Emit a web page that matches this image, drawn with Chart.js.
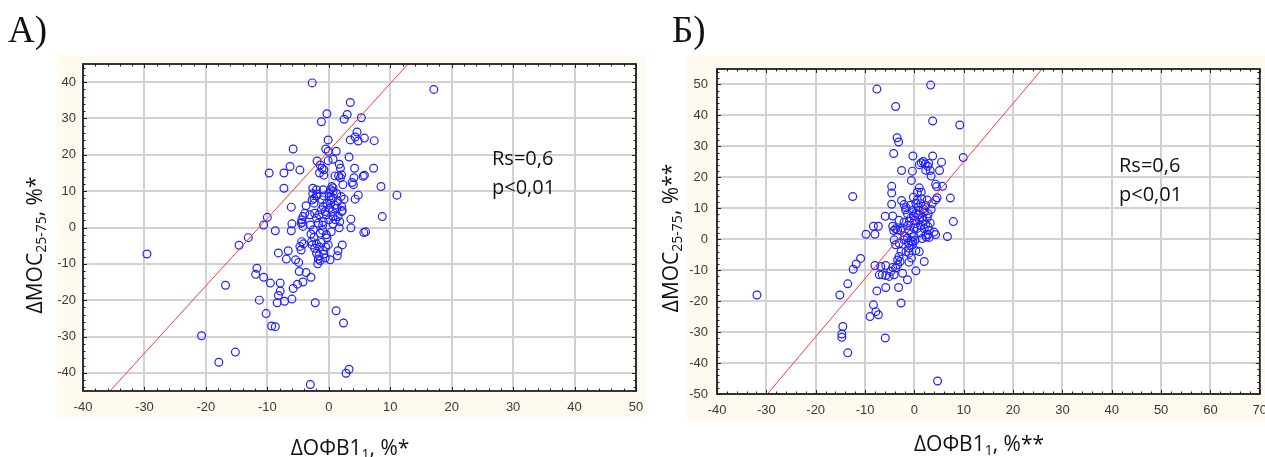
<!DOCTYPE html>
<html>
<head>
<meta charset="utf-8">
<script src="https://cdn.jsdelivr.net/npm/chart.js@4.4.1/dist/chart.umd.min.js"></script>
<style>
  html, body { margin: 0; padding: 0; background: #fff; }
  #wrap { position: relative; width: 1265px; height: 457px; overflow: hidden; }
  canvas { position: absolute; top: 0; }
  .hd { position: absolute; font-family: 'Liberation Serif', serif; font-size: 37px; color: #111; line-height: 1; }
  .tt { position: absolute; font-family: 'Open Sans', sans-serif; font-size: 21px; color: #111;
        white-space: nowrap; line-height: 1; transform: translate(-50%, -50%); }
  .tt.rot { transform: translate(-50%, -50%) rotate(-90deg); }
  .tt sub { font-size: 14px; vertical-align: -4px; line-height: 0; }
  .rs { position: absolute; font-family: 'Open Sans', sans-serif; font-size: 20px; color: #111; line-height: 29px; }
</style>
</head>
<body>
<div id="wrap">
  <canvas id="chartA" width="645" height="457" style="left:0"></canvas>
  <canvas id="chartB" width="620" height="457" style="left:645px"></canvas>

  <div class="hd" style="left:8px;top:11px">А)</div>
  <div class="hd" style="left:672px;top:11px">Б)</div>

  <div class="tt rot" style="left:34px;top:245px">ΔМОС<sub>25-75</sub>, %*</div>
  <div class="tt" style="left:350px;top:447px">ΔОФВ1<sub>1</sub>, %*</div>
  <div class="rs" style="left:492px;top:143px">Rs=0,6<br>p&lt;0,01</div>

  <div class="tt rot" style="left:670px;top:238px">ΔМОС<sub>25-75</sub>, %**</div>
  <div class="tt" style="left:979px;top:443px">ΔОФВ1<sub>1</sub>, %**</div>
  <div class="rs" style="left:1119px;top:150px">Rs=0,6<br>p&lt;0,01</div>
</div>

<script>
// Панель А: ΔОФВ1 (x) против ΔМОС25-75 (y)
const xA = [-29.6,-20.7,-17.9,-15.2,-16.8,-14.6,-13.1,-10.6,-10.0,-9.7,-8.7,-11.7,-11.9,-10.6,-9.5,-11.3,-10.2,-9.3,-8.7,-8.2,
  -7.9,-7.9,-8.2,-8.4,-7.2,-7.3,-7.3,-6.3,-5.8,-4.7,-6.6,-6.9,-6.1,-6.0,-6.1,-6.0,-5.8,-5.4,-4.9,-5.1,
  -4.8,-4.2,-3.7,-2.9,-2.2,-3.0,-2.7,-1.2,-0.3,-0.1,-0.5,-0.1,1.2,-1.9,-0.1,0.7,1.2,2.4,2.8,3.3,
  2.5,3.0,3.5,5.3,3.3,4.6,4.3,3.5,4.8,5.8,7.4,4.2,7.3,4.1,5.6,5.8,3.8,4.0,8.5,11.1,
  8.7,4.8,4.3,3.6,3.6,5.7,6.0,2.2,1.5,1.4,0.2,1.7,17.1,-1.4,-1.5,-1.1,-0.8,-0.8,1.7,1.9,
  1.0,1.6,2.1,1.9,2.3,-2.6,0.5,0.7,0.3,-0.9,-2.0,-2.6,-2.0,-0.8,0.0,0.7,1.3,2.0,2.5,-3.7,
  -2.4,-2.7,-1.1,-0.3,0.4,1.0,2.1,2.2,-3.9,-4.2,-4.4,-4.5,-4.2,-3.1,-2.3,-2.0,-1.6,-1.2,-0.9,-0.6,
  -0.4,0.1,0.3,0.6,0.7,0.0,-0.9,-1.7,1.1,1.5,1.8,1.3,0.1,0.7,1.5,2.1,-4.3,-3.0,-1.0,0.7,
  -2.9,-2.4,-1.4,-0.4,-0.3,-4.4,-4.1,-4.7,-4.5,-2.8,-2.7,-2.0,-1.2,-1.5,-0.9,-0.5,-0.1,-2.3,-2.0,-1.6,
  -1.7,-1.8,-1.4,-0.8,-0.6,-2.4,-1.9,-2.5,-1.0,0.4];
const yA = [-7.3,-29.8,-37.1,-34.3,-15.9,-4.9,-2.8,0.7,2.8,15.0,-0.9,-11.2,-12.9,-13.7,-15.3,-20.0,-23.7,-27.1,-27.3,-7.0,
  -15.3,-17.5,-18.7,-20.7,-20.3,15.0,10.8,16.8,21.6,15.8,-6.4,-8.7,5.6,1.0,-0.9,-19.7,-16.8,-8.9,-9.6,-15.6,
  -12.1,-15.0,-12.4,-13.7,-20.7,-43.2,39.8,29.1,31.3,24.1,21.6,21.0,21.0,18.3,18.4,18.8,-22.9,-26.3,-40.1,-39.0,
  29.8,31.1,34.4,30.2,19.4,26.3,24.9,24.1,23.8,24.6,23.9,16.3,16.3,13.7,14.1,14.4,12.4,11.8,11.3,8.9,
  3.0,8.9,7.8,2.3,-0.1,-1.4,-1.2,-4.8,-6.4,-7.8,-8.9,-0.1,38.0,17.2,15.0,16.3,15.9,14.4,17.4,16.3,
  14.2,14.2,14.5,13.7,11.8,10.8,11.3,10.9,10.4,10.4,10.4,9.3,8.7,8.7,9.4,9.9,9.3,8.5,7.8,6.0,
  6.7,7.6,7.6,6.7,7.6,6.1,5.8,4.7,3.9,3.0,2.1,1.2,0.3,3.5,3.9,2.6,3.5,4.9,5.8,4.4,
  3.5,5.3,6.7,4.4,3.0,2.1,1.6,1.2,2.1,3.0,1.6,5.3,8.5,8.1,7.2,4.4,1.4,0.7,0.6,1.0,
  -1.8,-2.7,-1.6,-2.0,-2.9,-3.9,-4.5,-5.2,-6.2,-3.9,-4.8,-4.5,-4.1,-5.4,-6.3,-5.4,-4.8,-5.7,-7.1,-7.8,
  -8.7,-10.0,-9.1,-7.3,-8.4,8.0,9.2,-0.6,-0.8,-1.2];

// Панель Б
const xB = [-7.6,3.3,-3.8,3.7,9.2,-3.5,-3.2,-4.2,-0.3,3.7,9.9,-2.6,-0.4,1.4,1.0,1.8,2.2,2.9,2.7,5.5,
  3.2,5.1,2.3,3.4,-0.6,-4.6,-4.6,4.3,4.5,5.7,1.0,0.6,1.4,-0.2,7.3,-2.6,-2.1,-1.7,-4.6,0.3,
  0.6,1.5,2.6,4.3,4.6,1.3,2.3,3.6,3.4,-0.4,-1.4,0.3,1.0,2.0,-4.4,-5.9,7.9,1.6,2.6,1.0,
  0.0,-0.7,-3.1,-2.1,-1.4,0.3,1.3,2.3,3.2,-8.3,-7.3,-4.4,-3.8,-2.8,-1.1,2.0,3.0,4.0,-4.2,-9.8,
  -8.0,-12.5,6.7,4.3,2.8,2.4,-0.1,1.3,2.3,3.0,-3.4,-2.4,-4.1,-3.8,-3.1,-2.1,-1.4,-0.7,-0.2,-0.4,
  -1.1,-1.7,-2.7,-3.1,-3.4,-2.9,-3.4,-3.8,-4.4,-4.8,-4.1,-5.1,-5.8,-6.5,-7.1,-6.8,-8.0,-5.8,-10.9,-11.8,
  -12.4,-2.4,-1.4,-3.2,-5.8,-7.6,-2.7,-8.3,-9.0,-7.8,-7.3,-5.9,4.7,-1.1,0.3,2.0,1.0,-1.1,-0.6,-13.5,
  -15.1,-31.9,-14.5,-14.7,-14.7,-13.5,-1.8,-0.8,0.8,1.8,2.8,-0.2,0.9,-1.0,1.8,2.8,0.6,-0.6,1.6,-2.0,
  -1.2,0.1,0.3,-0.3];
const yB = [48.5,49.8,42.9,38.2,36.9,32.8,31.4,27.7,26.9,26.9,26.4,22.2,22.0,24.7,24.1,25.1,24.3,24.5,23.6,24.9,
  22.2,22.2,22.3,20.4,19.0,17.1,14.9,17.8,17.0,17.1,16.6,15.2,15.2,13.6,13.3,12.5,11.2,10.2,11.3,11.6,
  12.7,13.1,12.7,12.7,13.4,11.5,10.9,11.5,9.6,9.3,8.2,8.4,9.3,8.8,7.5,7.4,5.7,7.1,6.9,6.3,
  6.1,6.9,6.1,5.5,4.4,5.0,4.4,5.0,5.2,4.2,4.2,4.2,3.4,2.8,2.8,3.4,2.8,2.3,2.8,1.6,
  1.6,13.8,0.9,1.5,1.5,0.7,3.6,2.0,1.4,0.6,3.0,3.6,-0.2,-1.8,-1.3,-0.2,0.4,-0.5,0.9,-1.8,
  -2.9,-4.0,-4.0,-5.6,-6.7,-7.2,-8.3,-9.3,-9.1,-10.4,-11.5,-12.0,-11.7,-11.5,-11.5,-8.8,-8.5,-8.5,-6.2,-8.0,
  -9.7,-11.0,-13.1,-15.6,-15.6,-16.7,-20.6,-21.2,-25.0,-23.4,-24.4,-31.9,-45.8,-7.4,-10.2,-7.2,-4.0,-4.5,-6.1,-14.4,
  -18.0,-18.0,-28.2,-30.6,-31.7,-36.7,9.5,11.0,10.3,9.8,8.2,7.5,7.9,5.8,6.0,4.0,3.5,1.8,0.2,1.0,
  -1.2,-0.4,-3.7,-0.8];

// линии регрессии (концы отрезков)
const fitAx = [-35.6, 12.9], fitAy = [-45, 45];
const fitBx = [-29.8, 25.9], fitBy = [-50, 55];

// деления осей
const ticksAx = [-40, -30, -20, -10, 0, 10, 20, 30, 40, 50];
const ticksAy = [-40, -30, -20, -10, 0, 10, 20, 30, 40];
const ticksBx = [-40, -30, -20, -10, 0, 10, 20, 30, 40, 50, 60, 70];
const ticksBy = [-50, -40, -30, -20, -10, 0, 10, 20, 30, 40, 50];

const toPts = (xs, ys) => xs.map((x, i) => ({ x, y: ys[i] }));

// фон панели, рамка и внутренние засечки как в Statistica
const panelDecor = {
  id: 'panelDecor',
  beforeDraw(chart, args, o) {
    const { ctx, chartArea: a } = chart;
    ctx.save();
    ctx.fillStyle = '#fefaf0';
    ctx.fillRect(o.box[0], o.box[1], o.box[2], o.box[3]);
    ctx.fillStyle = '#ffffff';
    ctx.fillRect(a.left, a.top, a.right - a.left, a.bottom - a.top);
    ctx.restore();
  },
  afterDraw(chart) {
    const { ctx, chartArea: a, scales } = chart;
    ctx.save();
    ctx.strokeStyle = '#202020';
    ctx.lineWidth = 1;
    ctx.beginPath();
    const xs = scales.x, ys = scales.y;
    for (let v = Math.ceil(xs.min / 2) * 2; v <= xs.max; v += 2) {
      const p = Math.round(xs.getPixelForValue(v)) + 0.5;
      const len = v % 10 === 0 ? 4 : 2.5;
      ctx.moveTo(p, a.bottom); ctx.lineTo(p, a.bottom - len);
      ctx.moveTo(p, a.top); ctx.lineTo(p, a.top + len);
    }
    for (let v = Math.ceil(ys.min / 2) * 2; v <= ys.max; v += 2) {
      const p = Math.round(ys.getPixelForValue(v)) + 0.5;
      const len = v % 10 === 0 ? 4 : 2.5;
      ctx.moveTo(a.left, p); ctx.lineTo(a.left + len, p);
      ctx.moveTo(a.right, p); ctx.lineTo(a.right - len, p);
    }
    ctx.stroke();
    ctx.lineWidth = 1.8;
    ctx.strokeRect(a.left, a.top, a.right - a.left, a.bottom - a.top);
    ctx.restore();
  }
};

const tickFont = { family: "'Liberation Sans', Arial, sans-serif", size: 13 };

function makePanel(id, p) {
  return new Chart(document.getElementById(id), {
    type: 'scatter',
    data: {
      datasets: [
        {
          data: toPts(p.fx, p.fy),
          showLine: true,
          borderColor: '#ff3b3b',
          borderWidth: 1,
          pointRadius: 0,
        },
        {
          data: toPts(p.xs, p.ys),
          pointRadius: 3.9,
          pointBorderWidth: 1.2,
          borderColor: '#2020ff',
          backgroundColor: 'rgba(0,0,0,0)',
        }
      ]
    },
    options: {
      responsive: false,
      animation: false,
      events: [],
      layout: { padding: p.pad },
      plugins: {
        legend: { display: false },
        tooltip: { enabled: false },
        panelDecor: { box: p.box }
      },
      scales: {
        x: {
          type: 'linear', min: p.xr[0], max: p.xr[1],
          afterBuildTicks: s => { s.ticks = p.xt.map(value => ({ value })); },
          afterFit: s => { s.height = p.xh; s.paddingLeft = 0; s.paddingRight = 0; },
          grid: { color: '#d2d2d2', lineWidth: 2, drawTicks: false },
          border: { display: false },
          ticks: { font: tickFont, color: '#3a3a3a', padding: p.xpad, maxRotation: 0, autoSkip: false }
        },
        y: {
          type: 'linear', min: p.yr[0], max: p.yr[1],
          afterBuildTicks: s => { s.ticks = p.yt.map(value => ({ value })); },
          afterFit: s => { s.width = p.yw; s.paddingTop = 0; s.paddingBottom = 0; },
          grid: { color: '#d2d2d2', lineWidth: 2, drawTicks: false },
          border: { display: false },
          ticks: { font: tickFont, color: '#3a3a3a', padding: p.ypad, autoSkip: false }
        }
      }
    },
    plugins: [panelDecor]
  });
}

makePanel('chartA', {
  xs: xA, ys: yA, fx: fitAx, fy: fitAy,
  xr: [-40, 50], yr: [-45, 45], xt: ticksAx, yt: ticksAy,
  pad: { left: 0, top: 64, right: 9, bottom: 40 },
  yw: 83, xh: 26, xpad: 9, ypad: 7,
  box: [57, 55, 588, 362]
});

makePanel('chartB', {
  xs: xB, ys: yB, fx: fitBx, fy: fitBy,
  xr: [-40, 70], yr: [-50, 55], xt: ticksBx, yt: ticksBy,
  pad: { left: 0, top: 69, right: 2, bottom: 34 },
  yw: 72, xh: 29, xpad: 9, ypad: 9,
  box: [42, 55, 578, 368]
});
</script>
</body>
</html>
